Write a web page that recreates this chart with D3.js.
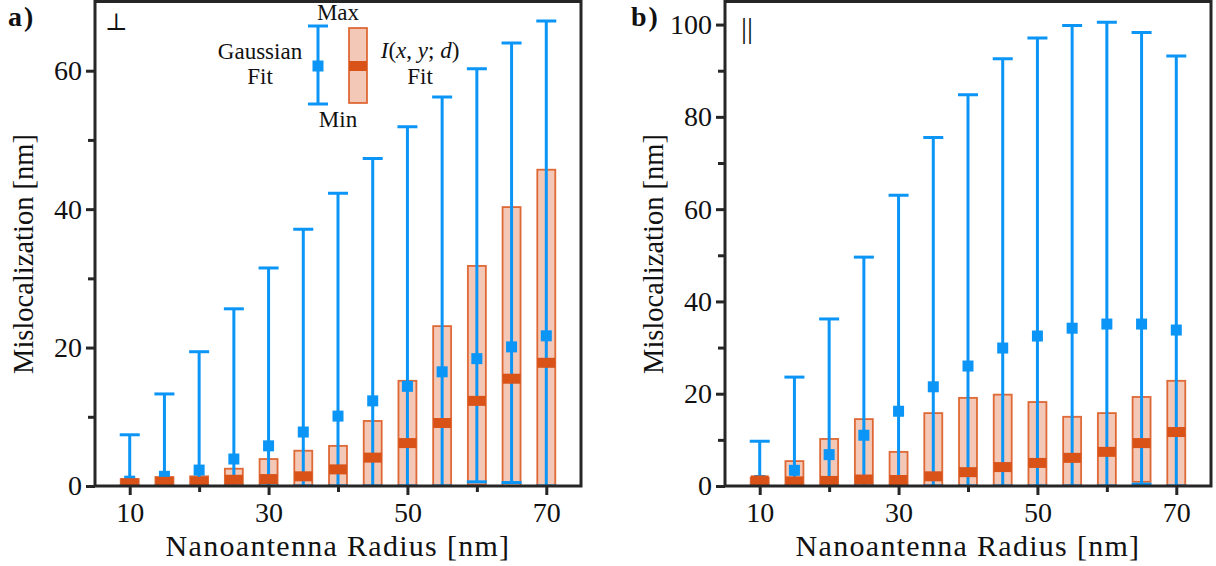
<!doctype html>
<html lang='en'>
<head>
    <meta charset='UTF-8'>
    <title>Mislocalization vs radius</title>
    <script src='https://d3js.org/d3.v7.min.js'></script>
    <style>
        html, body {
            margin: 0;
            background: #fff;
        }
    </style>
</head>
<body>
    <svg id='chart' width='1216' height='566' font-family='Liberation Serif, serif'></svg>
    <script>
        // radius of the nanoantenna [nm]
        const radius = [10, 15, 20, 25, 30, 35, 40, 45, 50, 55, 60, 65, 70];

        // panel a) perpendicular
        const perpGaussMax = [7.4, 13.3, 19.4, 25.6, 31.5, 37.1, 42.3, 47.3, 51.9, 56.2, 60.3, 64.0, 67.2];
        const perpGaussMean = [0.7, 1.4, 2.3, 3.9, 5.8, 7.8, 10.1, 12.3, 14.4, 16.5, 18.4, 20.1, 21.7];
        const perpGaussMin = [0, 0, 0, 0, 0, 0, 0, 0, 0, 0, 0.6, 0.5, 0];
        const perpFitMax = [1.0, 1.3, 1.4, 2.5, 3.9, 5.1, 5.8, 9.4, 15.2, 23.1, 31.8, 40.3, 45.7];
        const perpFitMed = [0.4, 0.6, 0.6, 0.9, 1.0, 1.4, 2.4, 4.1, 6.2, 9.1, 12.3, 15.5, 17.8];
        const perpFitMin = [0, 0, 0, 0, 0, 0, 0, 0, 0, 0, 0.2, 0, 0];

        // panel b) parallel
        const parGaussMax = [9.7, 23.6, 36.2, 49.6, 63.0, 75.5, 84.8, 92.6, 97.1, 99.8, 100.5, 98.3, 93.2];
        const parGaussMean = [1.2, 3.4, 6.8, 11.0, 16.2, 21.5, 26.0, 29.9, 32.5, 34.2, 35.1, 35.1, 33.8];
        const parGaussMin = [0, 0, 0, 0, 0, 0, 0, 0, 0, 0, 0, 0.4, 0];
        const parFitMax = [1.8, 5.4, 10.2, 14.5, 7.4, 15.8, 19.1, 19.8, 18.2, 15.0, 15.8, 19.3, 22.8];
        const parFitMed = [1.2, 1.0, 1.1, 1.4, 1.3, 2.1, 3.0, 4.1, 5.0, 6.1, 7.4, 9.3, 11.7];
        const parFitMin = [0, 0, 0, 0, 0, 0, 0, 0, 0, 0, 0, 0.9, 0];

        // ticks
        const xMajor = [10, 30, 50, 70];
        const xMinor = [20, 40, 60];
        const perpYMajor = [0, 20, 40, 60];
        const perpYMinor = [10, 30, 50];
        const parYMajor = [0, 20, 40, 60, 80, 100];
        const parYMinor = [10, 30, 50, 70, 90];

        const FONT = 'Liberation Serif, serif';

        const style = {
            blue: '#0b95f6',
            orange: '#d95319',
            boxFill: '#f3c8b7',
            axis: '#262626',
            lineWidth: 3,
            capWidth: 20,
            boxWidth: 18,
            markerSize: 11,
            medianHeight: 10,
            fontSize: 28,
            legendFont: 23
        };

        const svg = d3.select('#chart');

        const panels = [
            {
                id: 'a', tag: 'a)', tagX: 8,
                left: 95, right: 581, top: 1.5, bottom: 486,
                yMax: 70, yMajor: perpYMajor, yMinor: perpYMinor,
                gMax: perpGaussMax, gMean: perpGaussMean, gMin: perpGaussMin,
                fMax: perpFitMax, fMed: perpFitMed, fMin: perpFitMin
            },
            {
                id: 'b', tag: 'b)', tagX: 631,
                left: 725, right: 1211, top: 1.5, bottom: 486,
                yMax: 105, yMajor: parYMajor, yMinor: parYMinor,
                gMax: parGaussMax, gMean: parGaussMean, gMin: parGaussMin,
                fMax: parFitMax, fMed: parFitMed, fMin: parFitMin
            }
        ];

        panels.forEach(drawPanel);
        drawLegend();

        function addText(parent, txt, x, y, size, anchor) {
            return parent.append('text')
                .attr('x', x)
                .attr('y', y)
                .attr('text-anchor', anchor || 'middle')
                .attr('font-family', FONT)
                .attr('font-size', size)
                .attr('fill', '#111')
                .text(txt);
        }

        function drawPanel(p) {
            const x = d3.scaleLinear().domain([5, 75]).range([p.left, p.right]);
            const y = d3.scaleLinear().domain([0, p.yMax]).range([p.bottom, p.top]);

            const rows = radius.map((r, i) => ({
                r: r,
                gMax: p.gMax[i], gMean: p.gMean[i], gMin: p.gMin[i],
                fMax: p.fMax[i], fMed: p.fMed[i], fMin: p.fMin[i]
            }));

            svg.append('clipPath')
                .attr('id', 'clip-' + p.id)
                .append('rect')
                .attr('x', p.left)
                .attr('y', p.top)
                .attr('width', p.right - p.left)
                .attr('height', p.bottom - p.top);

            const plot = svg.append('g').attr('clip-path', 'url(#clip-' + p.id + ')');

            // I(x,y;d) fit box (behind)
            plot.selectAll('.box')
                .data(rows)
                .join('rect')
                .attr('class', 'box')
                .attr('x', (d) => x(d.r) - style.boxWidth / 2)
                .attr('y', (d) => y(d.fMax))
                .attr('width', style.boxWidth)
                .attr('height', (d) => y(d.fMin) - y(d.fMax))
                .attr('fill', style.boxFill)
                .attr('stroke', style.orange)
                .attr('stroke-opacity', 0.85)
                .attr('stroke-width', 1.8);

            // gaussian fit: error bar with caps
            const gauss = plot.selectAll('.gauss')
                .data(rows)
                .join('g')
                .attr('class', 'gauss')
                .attr('stroke', style.blue)
                .attr('stroke-width', style.lineWidth);

            gauss.append('line')
                .attr('x1', (d) => x(d.r)).attr('x2', (d) => x(d.r))
                .attr('y1', (d) => y(d.gMin)).attr('y2', (d) => y(d.gMax));

            gauss.append('line')
                .attr('x1', (d) => x(d.r) - style.capWidth / 2)
                .attr('x2', (d) => x(d.r) + style.capWidth / 2)
                .attr('y1', (d) => y(d.gMax)).attr('y2', (d) => y(d.gMax));

            gauss.append('line')
                .attr('x1', (d) => x(d.r) - style.capWidth / 2)
                .attr('x2', (d) => x(d.r) + style.capWidth / 2)
                .attr('y1', (d) => y(d.gMin)).attr('y2', (d) => y(d.gMin));

            plot.selectAll('.mean')
                .data(rows)
                .join('rect')
                .attr('class', 'mean')
                .attr('x', (d) => x(d.r) - style.markerSize / 2)
                .attr('y', (d) => y(d.gMean) - style.markerSize / 2)
                .attr('width', style.markerSize)
                .attr('height', style.markerSize)
                .attr('fill', style.blue);

            // median bar on top
            plot.selectAll('.median')
                .data(rows)
                .join('rect')
                .attr('class', 'median')
                .attr('x', (d) => x(d.r) - style.boxWidth / 2)
                .attr('y', (d) => y(d.fMed) - style.medianHeight / 2)
                .attr('width', style.boxWidth)
                .attr('height', style.medianHeight)
                .attr('fill', style.orange);

            // axes
            svg.append('g')
                .attr('transform', 'translate(0,' + p.bottom + ')')
                .call(d3.axisBottom(x).tickValues(xMajor).tickSize(9).tickPadding(7));
            svg.append('g')
                .attr('transform', 'translate(0,' + p.bottom + ')')
                .call(d3.axisBottom(x).tickValues(xMinor).tickSize(6).tickFormat(''));

            svg.append('g')
                .attr('transform', 'translate(' + p.left + ',0)')
                .call(d3.axisLeft(y).tickValues(p.yMajor).tickSize(9).tickPadding(4));
            svg.append('g')
                .attr('transform', 'translate(' + p.left + ',0)')
                .call(d3.axisLeft(y).tickValues(p.yMinor).tickSize(7).tickFormat(''));

            svg.selectAll('.domain').remove();
            svg.selectAll('.tick line')
                .attr('stroke', style.axis)
                .attr('stroke-width', 3);
            svg.selectAll('.tick text')
                .attr('font-size', style.fontSize)
                .attr('font-family', FONT)
                .attr('fill', '#111');

            // frame
            svg.append('rect')
                .attr('x', p.left)
                .attr('y', p.top)
                .attr('width', p.right - p.left)
                .attr('height', p.bottom - p.top)
                .attr('fill', 'none')
                .attr('stroke', style.axis)
                .attr('stroke-width', 3);

            // labels
            addText(svg, 'Nanoantenna Radius [nm]', (p.left + p.right) / 2, 556, 30)
                .attr('letter-spacing', 1.3);

            addText(svg, 'Mislocalization [nm]', 0, 0, 28.5)
                .attr('transform', 'translate(' + (p.left - 62) + ',254) rotate(-90)');

            addText(svg, p.tag, p.tagX, 26, 28, 'start')
                .attr('font-weight', 'bold')
                .attr('letter-spacing', 2);

            if (p.id == 'a') {
                addText(svg, '\u22A5', p.left + 10, 30, 24, 'start')
                    .attr('font-family', 'DejaVu Serif, serif');
            } else {
                addText(svg, '||', p.left + 16, 38, 30, 'start');
            }
        }

        function drawLegend() {
            const g = svg.append('g');
            const ex = 318, boxX = 358;

            g.append('rect')
                .attr('x', boxX - 9).attr('y', 28).attr('width', 18).attr('height', 75)
                .attr('fill', style.boxFill)
                .attr('stroke', style.orange).attr('stroke-opacity', 0.85).attr('stroke-width', 1.8);
            g.append('rect')
                .attr('x', boxX - 9).attr('y', 61).attr('width', 18).attr('height', 10)
                .attr('fill', style.orange);

            g.append('line')
                .attr('x1', ex).attr('x2', ex).attr('y1', 26).attr('y2', 104)
                .attr('stroke', style.blue).attr('stroke-width', style.lineWidth);
            [26, 104].forEach((yy) => {
                g.append('line')
                    .attr('x1', ex - 10).attr('x2', ex + 10).attr('y1', yy).attr('y2', yy)
                    .attr('stroke', style.blue).attr('stroke-width', style.lineWidth);
            });
            g.append('rect')
                .attr('x', ex - style.markerSize / 2).attr('y', 66 - style.markerSize / 2)
                .attr('width', style.markerSize).attr('height', style.markerSize)
                .attr('fill', style.blue);

            addText(g, 'Max', 338, 20, style.legendFont);
            addText(g, 'Min', 338, 127, style.legendFont);
            addText(g, 'Gaussian', 260, 59, style.legendFont);
            addText(g, 'Fit', 260, 84, style.legendFont);
            addText(g, 'Fit', 420, 84, style.legendFont);

            const math = addText(g, '', 420, 58, style.legendFont);
            [['I', true], ['(', false], ['x', true], [', ', false], ['y', true],
                ['; ', false], ['d', true], [')', false]].forEach(([t, it]) => {
                math.append('tspan')
                    .attr('font-style', it ? 'italic' : 'normal')
                    .text(t);
            });
        }
    </script>
</body>
</html>
